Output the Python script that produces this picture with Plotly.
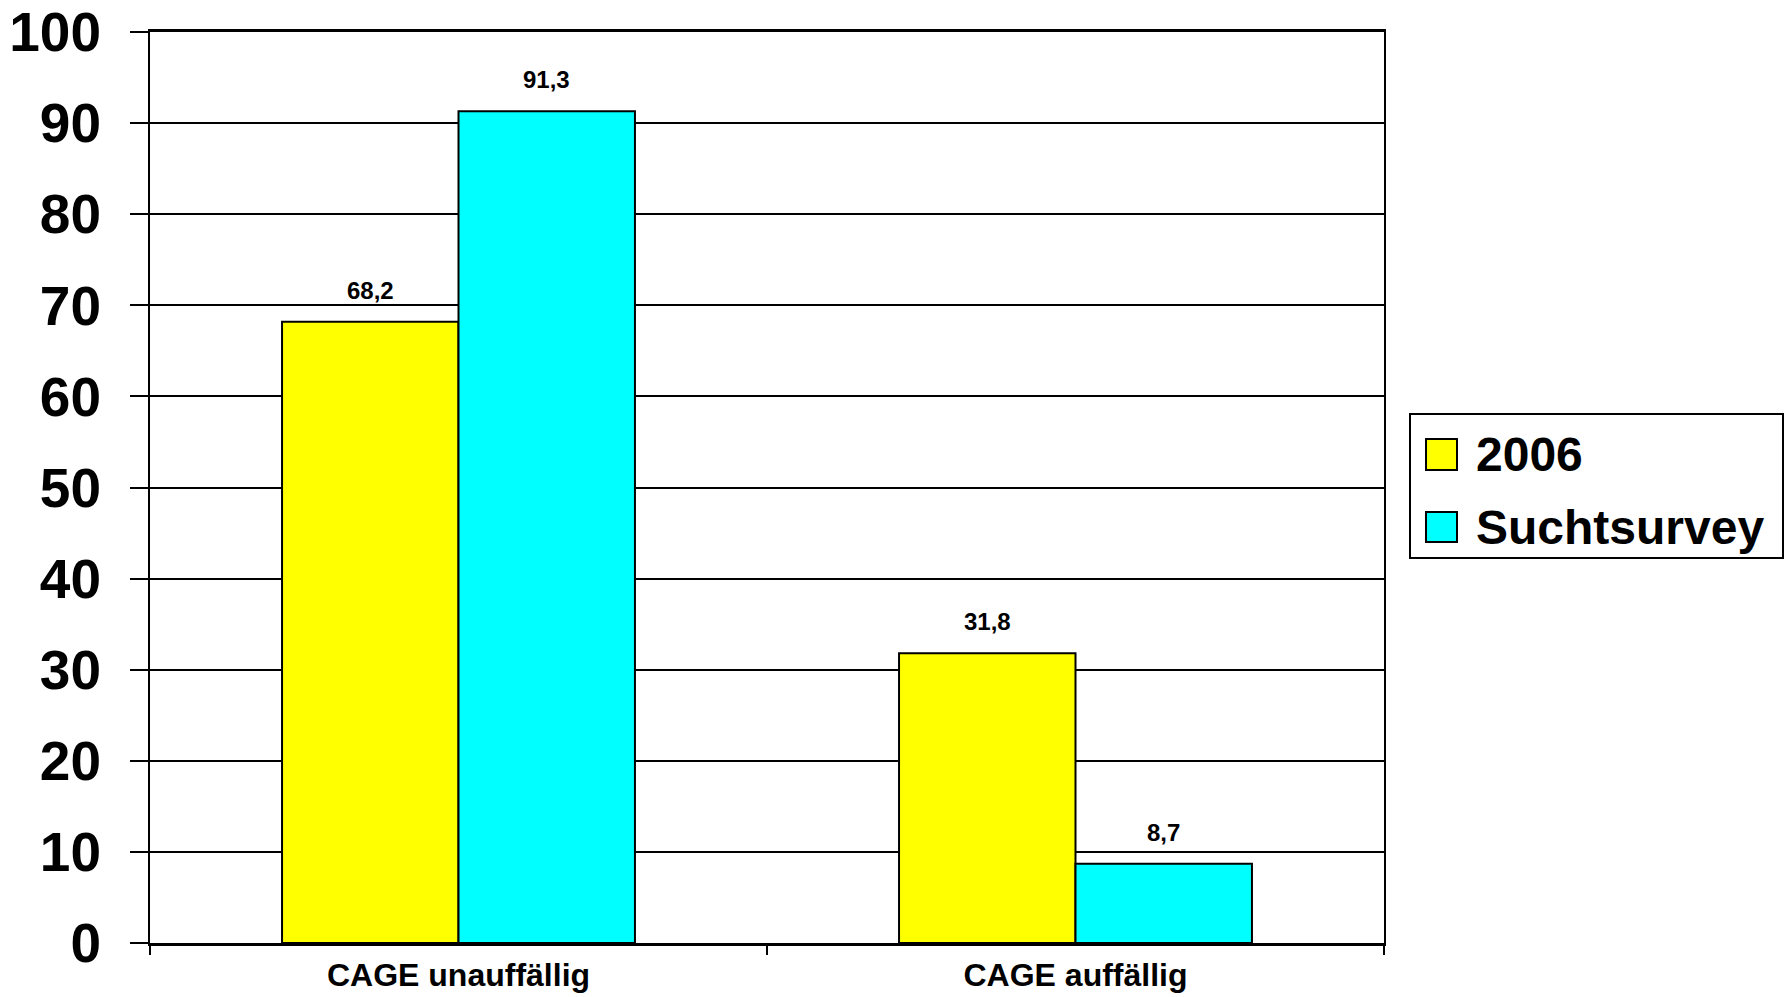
import plotly.graph_objects as go

# Categories and series values
categories = ["CAGE unauffällig", "CAGE auffällig"]
series_names = ["2006", "Suchtsurvey"]
values_2006 = [68.2, 31.8]
values_sucht = [91.3, 8.7]
series_values = [values_2006, values_sucht]
series_colors = ["#FFFF00", "#00FFFF"]
y_ticks = [0, 10, 20, 30, 40, 50, 60, 70, 80, 90, 100]

W, H = 1791, 997
M_L, M_R, M_T, M_B = 150, 407, 32, 54
PLOT_W = W - M_L - M_R
PLOT_H = H - M_T - M_B
BARGAP = 0.428
FONT = "Liberation Sans, Arial, sans-serif"


def px_x(px):
    return (px - M_L) / PLOT_W


def px_y(py):
    return (H - M_B - py) / PLOT_H


def de_num(v):
    return f"{v:.1f}".replace(".", ",")


fig = go.Figure()
for name, vals, col in zip(series_names, series_values, series_colors):
    fig.add_trace(go.Bar(
        x=categories, y=vals, name=name,
        marker=dict(color=col, line=dict(color="black", width=2)),
        showlegend=False,
    ))

# value labels above each bar
n_series = len(series_names)
bar_w = (1 - BARGAP) / n_series
annotations = []
for si, vals in enumerate(series_values):
    offset = -(1 - BARGAP) / 2 + bar_w * (si + 0.5)
    for ci, v in enumerate(vals):
        annotations.append(dict(
            x=ci + offset, y=v, xref="x", yref="y",
            text=de_num(v), showarrow=False,
            yanchor="bottom", yshift=16,
            font=dict(family=FONT, size=24, color="black", weight="bold"),
        ))

# legend box
shapes = [dict(type="rect", xref="paper", yref="paper",
               x0=px_x(1410), x1=px_x(1783), y0=px_y(558), y1=px_y(414),
               line=dict(color="black", width=2), fillcolor="white")]
legend_rows = [(439, 470), (512, 542)]
for (top, bot), name, col in zip(legend_rows, series_names, series_colors):
    shapes.append(dict(type="rect", xref="paper", yref="paper",
                       x0=px_x(1426), x1=px_x(1457), y0=px_y(bot), y1=px_y(top),
                       line=dict(color="black", width=2), fillcolor=col))
    annotations.append(dict(
        x=px_x(1474), y=px_y((top + bot) / 2), xref="paper", yref="paper",
        text=name, showarrow=False, xanchor="left", yanchor="middle",
        font=dict(family=FONT, size=48, color="black", weight="bold"),
    ))

fig.update_layout(
    width=W, height=H,
    margin=dict(l=M_L, r=M_R, t=M_T, b=M_B, pad=0),
    paper_bgcolor="white", plot_bgcolor="white",
    barmode="group", bargap=BARGAP, bargroupgap=0,
    shapes=shapes, annotations=annotations,
    showlegend=False,
)
fig.update_xaxes(
    type="category", automargin=False, ticklabeloverflow="allow",
    showline=True, linecolor="black", linewidth=3, mirror=True,
    ticks="outside", tickson="boundaries", ticklen=9, tickwidth=2, tickcolor="black",
    showgrid=False,
    ticklabelstandoff=2,
    tickfont=dict(family=FONT, size=32, color="black", weight="bold"),
)
fig.update_yaxes(
    range=[0, 100], tickvals=y_ticks, automargin=False, ticklabeloverflow="allow",
    showline=True, linecolor="black", linewidth=2, mirror=True,
    ticks="outside", ticklen=18, tickwidth=2, tickcolor="black",
    showgrid=True, gridcolor="black", gridwidth=2,
    zeroline=False,
    ticklabelstandoff=18,
    tickfont=dict(family=FONT, size=55, color="black", weight="bold"),
)

fig.write_html("out.html")
